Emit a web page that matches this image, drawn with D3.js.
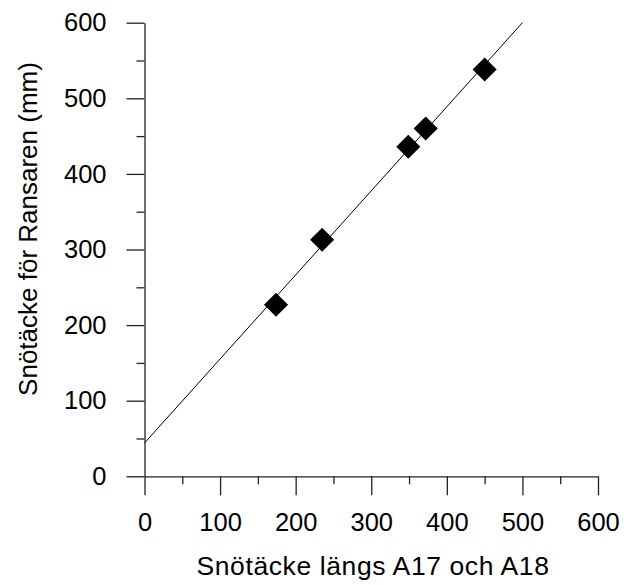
<!DOCTYPE html>
<html>
<head>
<meta charset="utf-8">
<script src="https://cdn.jsdelivr.net/npm/d3@7"></script>
<style>
body { margin: 0; background: #fff; }
svg { display: block; }
text { font-family: "Liberation Sans", Arial, sans-serif; fill: #000; }
</style>
</head>
<body>
<svg id="chart" width="626" height="585"></svg>
<script>
// Data
const pointsX = [174, 235, 349, 372, 450];
const pointsY = [227, 313, 436, 460, 538];
const fitLineX = [0, 500];
const fitLineY = [44, 600];
const majorTicks = [0, 100, 200, 300, 400, 500, 600];
const minorTicks = [50, 150, 250, 350, 450, 550];
const xTitle = "Snötäcke längs A17 och A18";
const yTitle = "Snötäcke för Ransaren (mm)";

(function () {
const svg = d3.select("#chart");
const mLeft = 144.5, mRight = 598, mTop = 22.7, mBottom = 476.3;

const x = d3.scaleLinear().domain([0, 600]).range([mLeft, mRight]);
const y = d3.scaleLinear().domain([0, 600]).range([mBottom, mTop]);

const fontSize = 25.5;

// Minor ticks
svg.append("g").attr("transform", `translate(0,${mBottom})`)
  .call(d3.axisBottom(x).tickValues(minorTicks).tickSize(8).tickSizeOuter(0).tickFormat(""))
  .call(g => g.select(".domain").remove());
svg.append("g").attr("transform", `translate(${mLeft},0)`)
  .call(d3.axisLeft(y).tickValues(minorTicks).tickSize(8).tickSizeOuter(0).tickFormat(""))
  .call(g => g.select(".domain").remove());

// Major axes
svg.append("g").attr("transform", `translate(0,${mBottom})`)
  .call(d3.axisBottom(x).tickValues(majorTicks).tickSize(19).tickSizeOuter(0).tickPadding(18).tickFormat(d3.format("d")));
svg.append("g").attr("transform", `translate(${mLeft},0)`)
  .call(d3.axisLeft(y).tickValues(majorTicks).tickSize(18).tickSizeOuter(0).tickPadding(20).tickFormat(d3.format("d")));

svg.selectAll(".tick line, .domain").attr("stroke", "#222").attr("stroke-width", 1.3);
svg.selectAll(".tick text").attr("font-size", fontSize).attr("font-family", "Liberation Sans, Arial, sans-serif").attr("fill", "#000");

// Fit line
const line = d3.line().x(d => x(d[0])).y(d => y(d[1]));
svg.append("path")
  .datum(fitLineX.map((v, i) => [v, fitLineY[i]]))
  .attr("d", line)
  .attr("fill", "none")
  .attr("stroke", "#000")
  .attr("stroke-width", 1);

// Points (diamonds)
const sym = d3.symbol().type(d3.symbolSquare).size(290);
svg.append("g").selectAll("path")
  .data(pointsX.map((v, i) => [v, pointsY[i]]))
  .join("path")
  .attr("d", sym)
  .attr("transform", d => `translate(${x(d[0])},${y(d[1])}) rotate(45)`)
  .attr("fill", "#000");

// Axis titles
svg.append("text")
  .attr("x", 373).attr("y", 574.5)
  .attr("text-anchor", "middle")
  .attr("font-size", 26.5)
  .attr("letter-spacing", 0.6)
  .text(xTitle);

svg.append("text")
  .attr("transform", "translate(37,229) rotate(-90)")
  .attr("text-anchor", "middle")
  .attr("font-size", 26)
  .text(yTitle);
})();
</script>
</body>
</html>
